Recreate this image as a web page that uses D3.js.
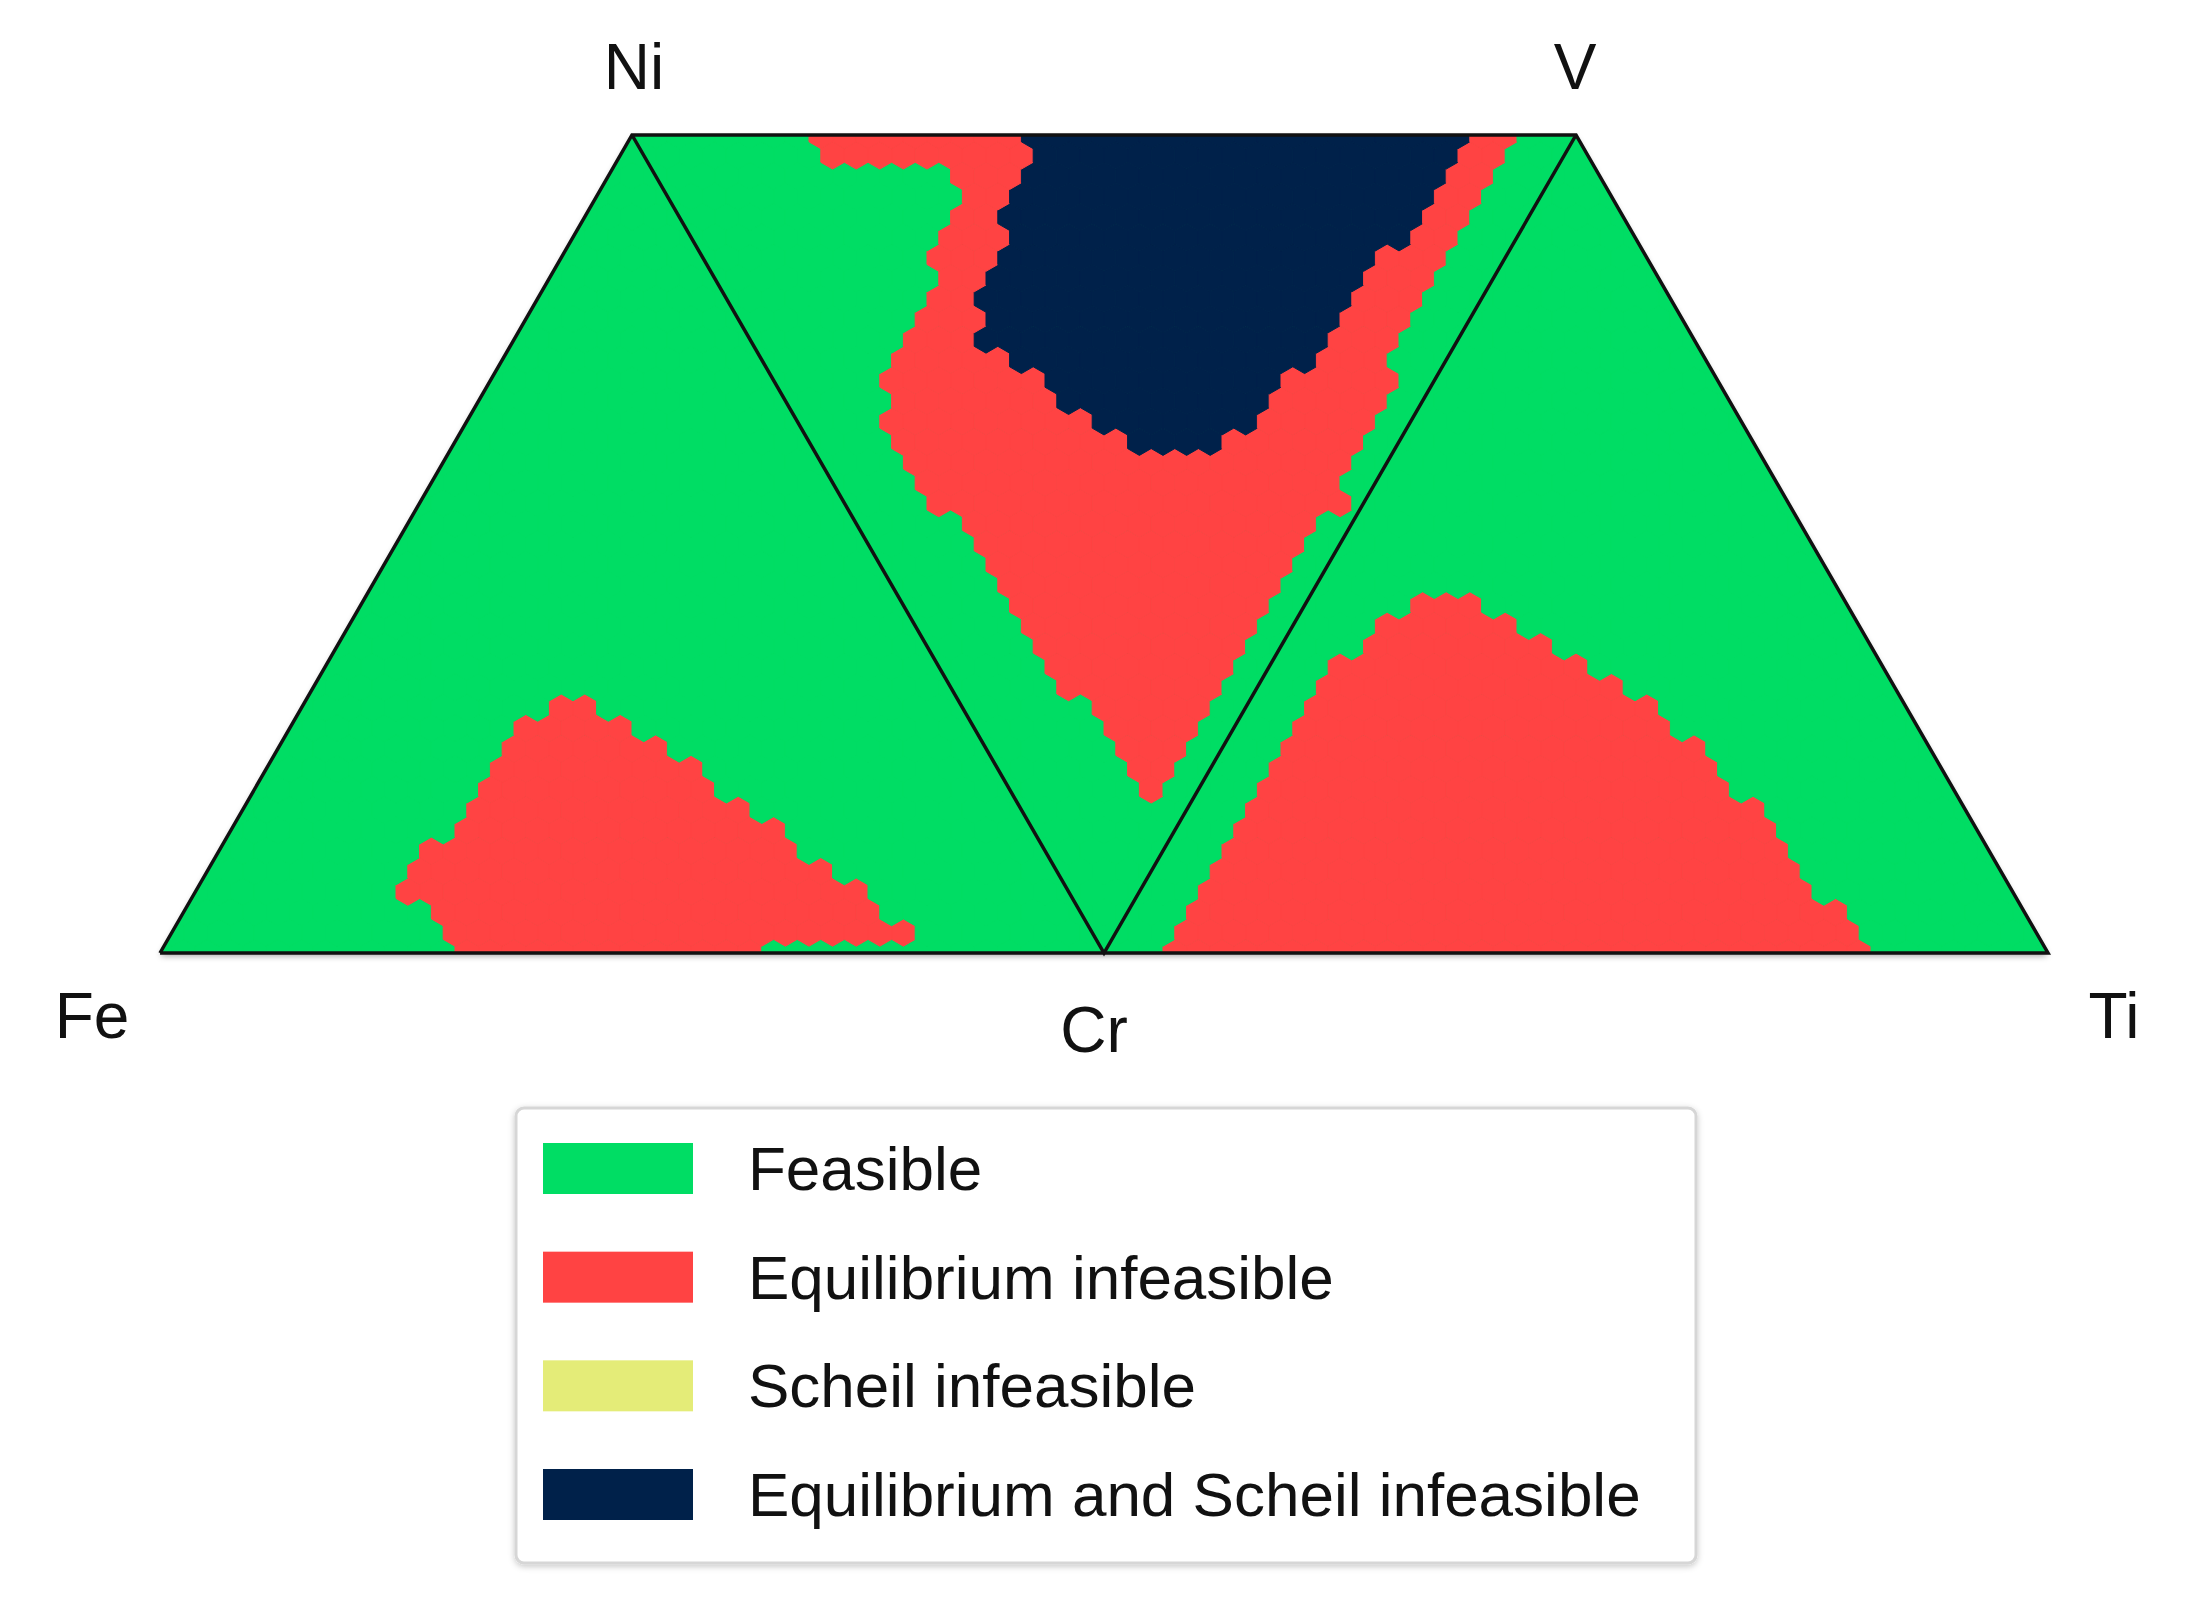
<!DOCTYPE html>
<html>
<head>
<meta charset="utf-8">
<script src="https://cdn.jsdelivr.net/npm/d3@7"></script>
<style>
  html, body { margin: 0; padding: 0; background: #fff; }
  svg { display: block; font-family: 'Liberation Sans', Arial, sans-serif; }
</style>
</head>
<body>
<div class="chart"></div>
<script>
'use strict'
// calculated compositions sit on a 2.5 at.% grid
var steps = 40

var classNames = ['Feasible', 'Equilibrium infeasible', 'Scheil infeasible', 'Equilibrium and Scheil infeasible']
var classColors = ['#00dd64', '#ff4343', '#e4ec78', '#00214a']

// region boundaries, at.%
// Fe-Cr-Ni section, [Cr, Ni]
var feCrNiEquilibrium = [[32.0, -1.0], [28.9, 2.4], [26.9, 4.1], [24.3, 6.3], [21.6, 7.7], [21.1, 8.9], [21.0, 10.7],
  [21.0, 13.5], [24.1, 13.8], [23.5, 15.8], [23.6, 18.4], [23.4, 20.8], [23.5, 23.0], [23.5, 25.9], [23.4, 28.5],
  [26.6, 29.8], [26.2, 31.2], [29.4, 31.4], [32.0, 28.8], [35.7, 28.1], [37.1, 26.2], [40.7, 25.7], [42.5, 23.7],
  [45.7, 23.2], [49.1, 19.6], [53.1, 18.4], [55.6, 15.8], [58.4, 15.5], [61.9, 11.4], [65.3, 10.6], [67.3, 8.5],
  [70.6, 8.2], [74.3, 4.1], [77.6, 3.2], [79.0, 2.0], [78.7, 1.2], [63.6, 1.2], [64.4, -1.0]]

// Ni-V-Cr section, [V, Cr]
var niVCrEquilibrium = [[19.4, -1.5], [96.2, -1.5], [94.0, 0.5], [89.0, 5.5], [82.8, 11.6], [77.7, 16.9], [71.7, 22.7],
  [66.3, 28.6], [63.7, 33.2], [58.4, 38.8], [51.9, 45.7], [44.2, 52.3], [38.3, 58.4], [32.6, 64.2], [27.1, 69.5],
  [21.5, 75.1], [16.4, 80.4], [14.4, 82.3], [14.3, 80.4], [14.2, 75.6], [14.0, 69.9], [12.2, 67.5], [12.0, 61.7],
  [12.0, 55.2], [11.8, 49.4], [9.9, 46.7], [8.8, 41.7], [9.4, 35.6], [11.0, 31.5], [13.4, 28.1], [16.8, 24.7],
  [20.7, 19.8], [25.0, 14.5], [30.1, 9.2], [31.4, 7.5], [31.2, 6.0], [31.4, 3.9], [19.2, 3.9]]

var niVCrBoth = [[42.3, -1.5], [90.5, -1.5], [88.9, 0.5], [86.0, 3.1], [83.2, 5.8], [80.3, 8.4], [77.2, 11.6],
  [75.2, 13.6], [71.7, 15.2], [68.5, 18.6], [64.4, 22.7], [60.3, 25.9], [57.3, 28.6], [53.8, 30.7], [50.3, 33.6],
  [47.8, 36.5], [44.7, 36.5], [42.5, 38.8], [34.2, 38.8], [34.5, 36.5], [31.4, 36.5], [31.1, 33.7], [28.7, 33.6],
  [29.3, 29.1], [27.1, 28.6], [26.6, 26.2], [24.7, 26.2], [24.7, 24.7], [26.3, 21.8], [27.5, 19.3], [30.0, 16.5],
  [32.5, 13.6], [34.4, 11.6], [34.4, 9.9], [37.3, 6.6], [39.5, 4.3], [41.7, 2.2], [42.3, 0]]

// Cr-Ti-V section, [Ti, V]
var crTiVEquilibrium = [[6.8, -1.0], [5.4, 3.8], [5.7, 6.1], [5.6, 8.5], [5.8, 11.1], [5.8, 14.3], [6.0, 16.7],
  [6.1, 19.6], [6.2, 22.3], [6.0, 25.7], [6.1, 28.5], [6.7, 31.4], [6.4, 34.9], [7.0, 36.6], [8.7, 36.3], [8.5, 38.7],
  [8.3, 41.1], [9.5, 41.7], [11.6, 41.6], [11.0, 43.6], [11.8, 44.1], [14.4, 44.0], [17.1, 44.0], [18.6, 42.4],
  [21.3, 41.1], [23.0, 40.7], [24.8, 39.2], [26.9, 38.7], [29.8, 36.3], [31.7, 36.3], [34.2, 34.2], [36.9, 33.7],
  [38.9, 31.9], [41.7, 31.4], [44.3, 29.0], [46.4, 26.9], [49.6, 26.4], [51.8, 24.0], [54.6, 21.5], [57.4, 18.7],
  [59.9, 18.7], [62.0, 16.7], [64.0, 14.7], [67.0, 11.8], [69.6, 9.4], [72.6, 6.5], [74.6, 6.5], [76.7, 4.4],
  [79.2, 2.4], [81.8, -1.0]]

// the three sections share one strip: u runs along the base (0..2), v from base to top (0..1)
var fromFeCrNi = function (p) { return [p[0] / 100 + p[1] / 200, p[1] / 100] }
var fromNiVCr = function (p) { return [0.5 + p[0] / 100 + p[1] / 200, 1 - p[1] / 100] }
var fromCrTiV = function (p) { return [1 + p[0] / 100 + p[1] / 200, p[1] / 100] }

// first match wins
var regions = [
  { cls: 3, poly: niVCrBoth.map(fromNiVCr) },
  { cls: 1, poly: niVCrEquilibrium.map(fromNiVCr) },
  { cls: 1, poly: feCrNiEquilibrium.map(fromFeCrNi) },
  { cls: 1, poly: crTiVEquilibrium.map(fromCrTiV) }
]

var cells = []
d3.range(steps + 1).forEach(function (r) {
  d3.range(2 * steps - r + 1).forEach(function (k) {
    var p = [(r / 2 + k) / steps, r / steps]
    var hit = regions.find(function (g) { return d3.polygonContains(g.poly, p) })
    cells.push({ u: p[0], v: p[1], cls: hit ? hit.cls : 0 })
  })
})

var width = 2185
var height = 1600
var x = d3.scaleLinear().domain([0, 2]).range([160, 2048])
var y = d3.scaleLinear().domain([0, 1]).range([953, 135])

var corner = {
  Fe: [0, 0], Cr: [1, 0], Ti: [2, 0], Ni: [0.5, 1], V: [1.5, 1]
}
var px = function (c) { return [x(c[0]), y(c[1])] }
var strip = d3.line()(['Fe', 'Ni', 'V', 'Ti'].map(function (n) { return px(corner[n]) })) + 'Z'

var svg = d3.select('.chart').append('svg')
  .attr('width', width)
  .attr('height', height)

var defs = svg.append('defs')
defs.append('clipPath').attr('id', 'strip')
  .append('path')
  .attr('d', strip)
defs.append('filter').attr('id', 'blur').append('feGaussianBlur').attr('stdDeviation', 3)
var shadow = defs.append('filter').attr('id', 'shadow')
  .attr('x', '-5%').attr('y', '-5%').attr('width', '110%').attr('height', '115%')
shadow.append('feDropShadow').attr('dx', 0).attr('dy', 2).attr('stdDeviation', 3)
  .attr('flood-color', '#000').attr('flood-opacity', 0.22)

// soft shadow under the strip
svg.append('path')
  .attr('d', strip)
  .attr('transform', 'translate(0,3)')
  .attr('fill', '#000')
  .attr('opacity', 0.35)
  .attr('filter', 'url(#blur)')

var step = x(1 / steps) - x(0)
var radius = step / Math.sqrt(3)
var hexagon = function (d) {
  var cx = x(d.u)
  var cy = y(d.v)
  return d3.line()(d3.range(6).map(function (i) {
    var a = Math.PI / 180 * (60 * i - 90)
    return [cx + radius * Math.cos(a), cy + radius * Math.sin(a)]
  })) + 'Z'
}

var plot = svg.append('g').attr('clip-path', 'url(#strip)')
plot.append('path')
  .attr('d', strip)
  .attr('fill', classColors[0])
plot.selectAll('.cell')
  .data(cells)
  .enter().append('path')
  .attr('class', 'cell')
  .attr('d', hexagon)
  .attr('fill', function (d) { return classColors[d.cls] })
  .attr('stroke', function (d) { return classColors[d.cls] })
  .attr('stroke-width', 1)

// section outlines
var outlines = [['Fe', 'Ni', 'V', 'Ti', 'Fe'], ['Ni', 'Cr', 'V']]
svg.append('g').selectAll('path')
  .data(outlines)
  .enter().append('path')
  .attr('d', function (d) { return d3.line()(d.map(function (n) { return px(corner[n]) })) })
  .attr('fill', 'none')
  .attr('stroke', '#111')
  .attr('stroke-width', 3.5)
  .attr('stroke-linejoin', 'miter')

// corner labels
var labelAt = {
  Fe: [92, 1038], Cr: [1094, 1052], Ti: [2114, 1038], Ni: [634, 89], V: [1575, 89]
}
svg.append('g').selectAll('text')
  .data(Object.keys(labelAt))
  .enter().append('text')
  .attr('x', function (d) { return labelAt[d][0] })
  .attr('y', function (d) { return labelAt[d][1] })
  .attr('text-anchor', 'middle')
  .attr('font-size', 64)
  .attr('fill', '#111')
  .text(function (d) { return d })

// legend
var legend = svg.append('g')
legend.append('rect')
  .attr('x', 516).attr('y', 1108)
  .attr('width', 1180).attr('height', 455)
  .attr('rx', 8)
  .attr('fill', '#fff')
  .attr('stroke', '#d6d6d6')
  .attr('stroke-width', 3)
  .attr('filter', 'url(#shadow)')

var row = d3.scaleLinear().domain([0, 3]).range([1168, 1494])
var item = legend.selectAll('.item')
  .data(classNames)
  .enter().append('g')
  .attr('class', 'item')
  .attr('transform', function (d, i) { return 'translate(0,' + row(i) + ')' })
item.append('rect')
  .attr('x', 543).attr('y', -25)
  .attr('width', 150).attr('height', 51)
  .attr('fill', function (d, i) { return classColors[i] })
item.append('text')
  .attr('x', 748).attr('y', 22)
  .attr('font-size', 62)
  .attr('fill', '#111')
  .text(function (d) { return d })
</script>
</body>
</html>
